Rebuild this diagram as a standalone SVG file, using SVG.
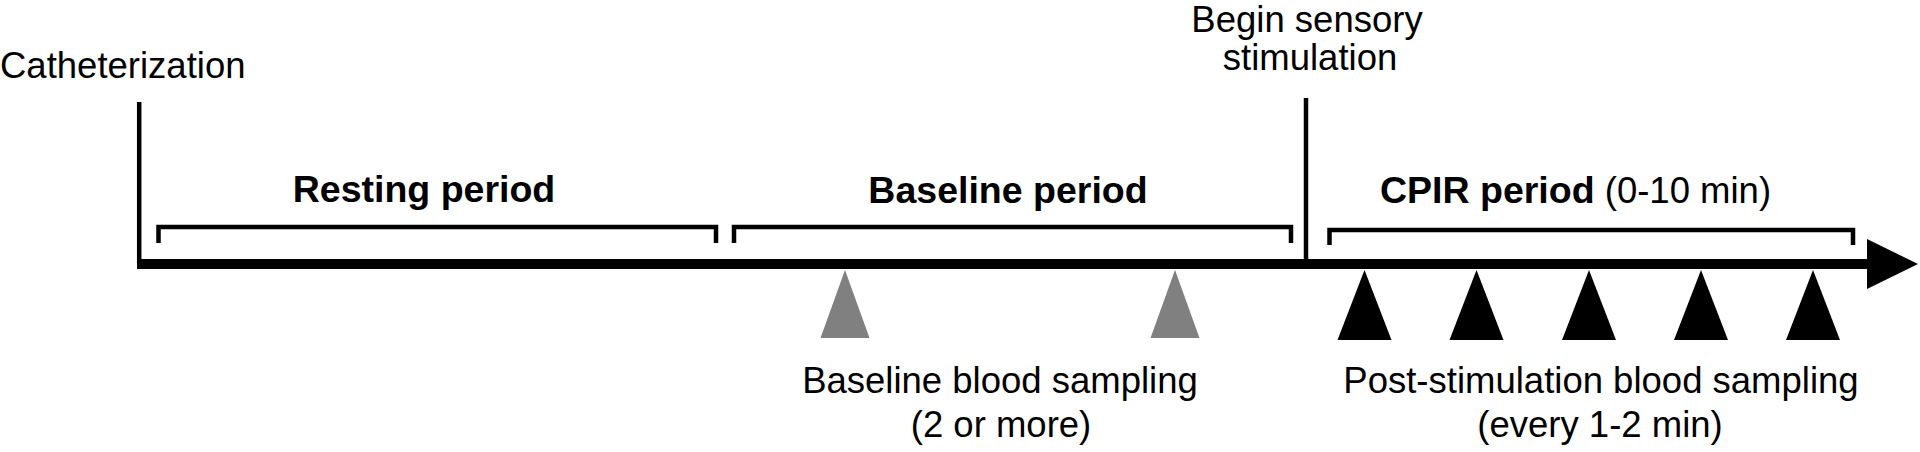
<svg xmlns="http://www.w3.org/2000/svg" width="1920" height="452" viewBox="0 0 1920 452">
<style>
.t{font-family:"Liberation Sans",Arial,sans-serif;font-size:36.5px;fill:#000}
.b{font-weight:bold;font-size:37.5px}
.m{text-anchor:middle}
.br{fill:none;stroke:#000;stroke-width:4.5;stroke-linejoin:miter;stroke-linecap:butt}
.mk{fill:none;stroke:#000;stroke-width:4.5}
.gray{fill:#808080}
.blk{fill:#000}
</style>
<rect width="1920" height="452" fill="#fff"/>
<g id="connectors">
  <rect id="timeline" x="137" y="259" width="1733" height="10" fill="#000"/>
  <polygon id="arrowhead" points="1867,239 1918,264 1867,289" fill="#000"/>
  <line id="cath-line" class="mk" x1="139.2" y1="102" x2="139.2" y2="264"/>
  <line id="stim-line" class="mk" x1="1306" y1="98" x2="1306" y2="260"/>
</g>
<g id="catheterization">
  <text class="t" x="0" y="78">Catheterization</text>
</g>
<g id="begin-stimulation">
  <text class="t m" x="1307" y="32" font-size="35">Begin sensory</text>
  <text class="t m" x="1310" y="70" font-size="35">stimulation</text>
</g>
<g id="resting-period">
  <path class="br" d="M158.5,243 V227 H716 V243"/>
  <text class="t b m" x="424" y="202">Resting period</text>
</g>
<g id="baseline-period">
  <path class="br" d="M734,243 V227 H1291 V243"/>
  <text class="t b m" x="1008" y="203">Baseline period</text>
</g>
<g id="cpir-period">
  <path class="br" d="M1329.5,245 V230 H1853 V245"/>
  <text class="t" x="1380" y="203"><tspan class="b">CPIR period</tspan> (0-10 min)</text>
</g>
<g id="baseline-sampling">
  <polygon class="gray" points="845,270 869.5,338 820.5,338"/>
  <polygon class="gray" points="1175,270 1199.5,338 1150.5,338"/>
  <text class="t m" x="1000" y="393">Baseline blood sampling</text>
  <text class="t m" x="1001" y="437">(2 or more)</text>
</g>
<g id="post-sampling">
  <polygon class="blk" points="1364.5,270 1391.5,340 1337.5,340"/>
  <polygon class="blk" points="1476.5,270 1503.5,340 1449.5,340"/>
  <polygon class="blk" points="1589,270 1616,340 1562,340"/>
  <polygon class="blk" points="1701,270 1728,340 1674,340"/>
  <polygon class="blk" points="1813,270 1840,340 1786,340"/>
  <text class="t m" x="1601" y="393">Post-stimulation blood sampling</text>
  <text class="t m" x="1600" y="437">(every 1-2 min)</text>
</g>
</svg>
